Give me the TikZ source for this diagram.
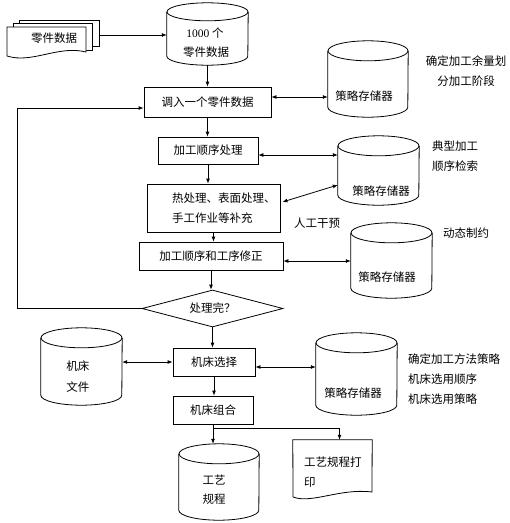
\documentclass[tikz,border=0pt]{standalone}
\usepackage{fontspec}
\setmainfont{Liberation Serif}
\newfontfamily\cjk{Noto Sans CJK SC}
\usetikzlibrary{arrows.meta,shapes.geometric,calc}

\newcommand\mycyl[6]{%
  \node[inner sep=0pt, minimum width=#4pt, minimum height=#5pt] (#1) at (#2,#3) {};
  \draw[ln] ($(#1.north west)+(0,#6)$) -- ($(#1.south west)+(0,-#6)$)
     arc[start angle=180, end angle=360, x radius=#4pt/2, y radius=#6pt]
     -- ($(#1.north east)+(0,#6)$);
  \draw[ln] ($(#1.north)+(0,#6)$) ellipse [x radius=#4pt/2, y radius=#6pt];
}

\begin{document}
\begin{tikzpicture}[x=1pt,y=-1pt,
  every node/.style={font=\cjk\fontsize{11.5pt}{14pt}\selectfont},
  ln/.style={line width=0.8pt},
  box/.style={draw, ln, inner sep=0pt},
  ar/.style={ln, -{Latex[length=5pt,width=4pt]}},
  dar/.style={ln, {Latex[length=5pt,width=4pt]}-{Latex[length=5pt,width=4pt]}},
  lbl/.style={inner sep=0pt},
  ml/.style={inner sep=0pt, font=\cjk\fontsize{11.5pt}{20pt}\selectfont}
]
\useasboundingbox (0,0) rectangle (510,523);

% multi-document
\node[inner sep=0pt, minimum width=80pt, minimum height=26pt] (mdoc) at (59,35) {};
\draw[ln, fill=white] (19,20) -- (99,20) -- (99,46) -- (19,46) -- cycle;
\draw[ln, fill=white] (13,23) -- (92,23) -- (92,50) -- (13,50) -- cycle;
\draw[ln, fill=white] (7,27) -- (86,27) -- (86,52) .. controls (58,45) and (32,64) .. (7,56) -- cycle;
\node[lbl] (mdt) at (54,38) {零件数据};

% cylinders
\mycyl{c0}{207.5}{34}{81}{62}{9}
\node[lbl] (c0a) at (205,33) {{\rmfamily 1000} 个};
\node[lbl] (c0b) at (206,52) {零件数据};

\mycyl{s1}{368}{79}{80}{76}{10}
\node[lbl] (s1t) at (364,96) {策略存储器};

\mycyl{s2}{378.5}{170.5}{81}{69}{10}
\node[lbl] (s2t) at (381,191) {策略存储器};

\mycyl{s3}{391.5}{260.5}{81}{75}{10}
\node[lbl] (s3t) at (387,277) {策略存储器};

\mycyl{cf}{81.5}{366.5}{81}{77}{10}
\node[lbl] (cfa) at (78,366) {机床};
\node[lbl] (cfb) at (78,387) {文件};

\mycyl{s4}{356.5}{374}{81}{82}{10}
\node[lbl] (s4t) at (353,393) {策略存储器};

\mycyl{cp}{219}{482}{80}{76}{10}
\node[lbl] (cpa) at (214,480) {工艺};
\node[lbl] (cpb) at (214,499) {规程};

% boxes
\node[box, minimum width=127pt, minimum height=30pt] (b1) at (207.5,102) {调入一个零件数据};
\node[box, minimum width=100pt, minimum height=27pt] (b2) at (208,150.5) {加工顺序处理};
\node[box, minimum width=133pt, minimum height=48pt] (b3) at (213.5,208) {};
\node[ml, anchor=west, align=left] (t3) at (172,208) {热处理、表面处理、\\手工作业等补充};
\node[box, minimum width=144pt, minimum height=28pt] (b4) at (211,256) {加工顺序和工序修正};
\node[draw, ln, diamond, aspect=3.81, minimum width=141pt, minimum height=37pt, inner sep=0pt] (d) at (212.5,308.5) {处理完？};
\node[box, minimum width=82pt, minimum height=28pt] (b5) at (214,362) {机床选择};
\node[box, minimum width=80pt, minimum height=28pt] (b6) at (213,410) {机床组合};

% print document
\node[inner sep=0pt, minimum width=79pt, minimum height=52pt] (docP) at (332.5,466) {};
\draw[ln] (docP.north west) -- (docP.north east) -- (372,492)
   .. controls (340,488) and (312,504) .. (293,497) -- cycle;
\node[ml, anchor=west, align=left] (dpt) at (304,472) {工艺规程打\\印};

% side labels
\node[ml, align=center] (n1) at (466,71) {确定加工余量划\\分加工阶段};
\node[ml, anchor=west, align=left] (n2) at (432,156.5) {典型加工\\顺序检索};
\node[lbl] (n3) at (317,223) {人工干预};
\node[lbl] (n4) at (466,233) {动态制约};
\node[ml, anchor=west, align=left] (n5) at (408,379) {确定加工方法策略\\机床选用顺序\\机床选用策略};

% connectors
\draw[ar] (mdoc.east) -- (mdoc.east -| c0.west);
\draw[ar] (c0.south) -- (c0.south |- b1.north);
\coordinate (k1) at ($(b1.east)+(0,-5)$);
\draw[dar] (k1) -- (k1 -| s1.west);
\draw[ar] (b1.south) -- (b1.south |- b2.north);
\coordinate (k2) at ($(b2.east)+(0,4.5)$);
\draw[dar] (k2) -- (k2 -| s2.west);
\draw[ar] (b2.south) -- (b2.south |- b3.north);
\draw[dar] ($(b3.east)+(2,-6)$) -- ($(s2.west)+(0,14.5)$);
\draw[ar] (b3.south) -- (b3.south |- b4.north);
\coordinate (k4) at ($(b4.east)+(0,5)$);
\draw[dar] (k4) -- (k4 -| s3.west);
\draw[ar] (b4.south) -- (b4.south |- d.north);
\draw[ar] (d.west) -- ++(-124,0) |- ($(b1.west)+(0,6)$);
\draw[ar] (d.south) -- (d.south |- b5.north);
\coordinate (k5) at (b5.west);
\draw[dar] (k5) -- (k5 -| cf.east);
\coordinate (k6) at ($(b5.east)+(0,5)$);
\draw[dar] (k6) -- (k6 -| s4.west);
\draw[ar] (b5.south) -- (b5.south |- b6.north);
\coordinate (br) at ($(b6.south)+(0,4)$);
\draw[ln] (b6.south) -- (br);
\draw[ar] (br) -- (br |- cp.north);
\draw[ar] (br) -| ($(docP.north)+(7,0)$);
\end{tikzpicture}
\end{document}
